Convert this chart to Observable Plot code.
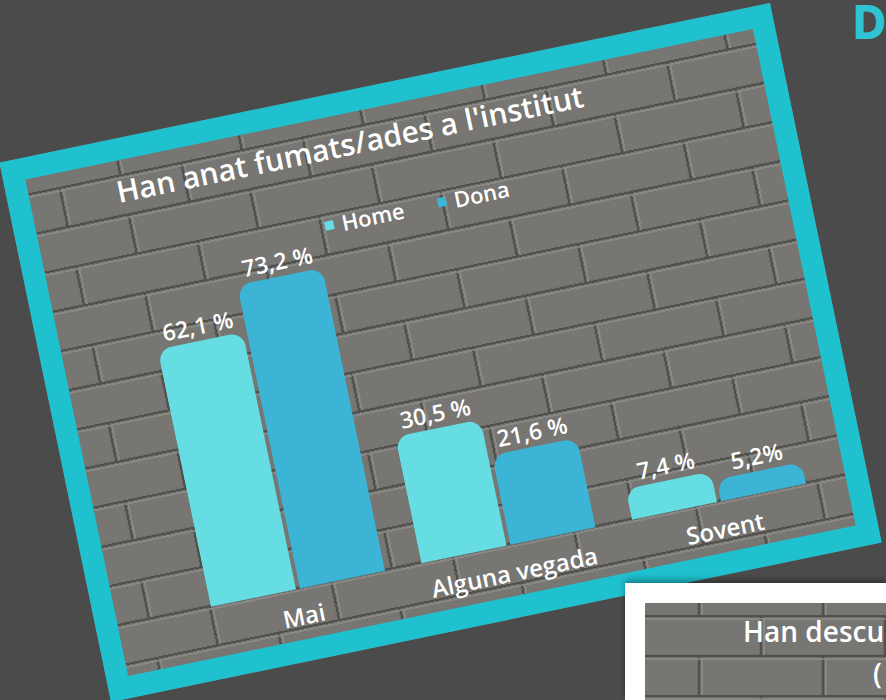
<!DOCTYPE html>
<html><head><meta charset="utf-8">
<script src="https://cdn.jsdelivr.net/npm/d3@7"></script>
<script src="https://cdn.jsdelivr.net/npm/@observablehq/plot@0.6"></script>
<style>
html{margin:0;padding:0;overflow:hidden;background:#4b4b4b;}
body{margin:0;padding:0;width:886px;height:700px;overflow:hidden;background:#4b4b4b;position:relative;font-family:"Open Sans",sans-serif;}
#stage{position:absolute;left:0;top:0;width:886px;height:700px;overflow:hidden;}
#card{position:absolute;left:46.75px;top:76.75px;width:787px;height:551px;box-sizing:border-box;border:22px solid #1fc1cf;transform:rotate(-11.7deg);transform-origin:50% 50%;background-color:#777672;z-index:1;}
#title{position:absolute;left:87px;top:16px;font-size:30px;font-weight:600;color:#fff;white-space:nowrap;line-height:1;}
#legend{position:absolute;left:284px;top:95px;display:flex;gap:34px;font-size:22px;font-weight:600;color:#fff;line-height:1;}
#legend .item{display:flex;align-items:center;gap:8px;}
#legend .sw{width:9px;height:9px;display:inline-block;}
#chart{position:absolute;left:0;top:0;}
#card2{position:absolute;left:625px;top:583px;width:261px;height:117px;box-sizing:border-box;border:20px solid #fff;border-right:none;border-bottom:none;background-color:#777672;z-index:2;box-shadow:0 -3px 6px rgba(0,0,0,0.35);overflow:hidden;}
#t2{position:absolute;left:98px;top:14px;font-size:28px;font-weight:600;color:#fff;white-space:nowrap;line-height:1;}
#t2b{position:absolute;left:228px;top:56px;font-size:28px;font-weight:600;color:#fff;line-height:1;}
#dtitle{position:absolute;left:852px;top:0px;font-family:"Liberation Sans Narrow","DejaVu Sans Condensed",sans-serif;font-weight:bold;font-size:46px;color:#2fc3d3;line-height:1;}
</style>
</head>
<body>
<div id="stage">
<div id="dtitle">D</div>
<div id="card">
  <div id="title"></div>
  <div id="legend"></div>
  <div id="chart"></div>
</div>
<div id="card2"><div id="t2">Han descu</div><div id="t2b">(</div></div>
</div>
<script>
const titleText = "Han anat fumats/ades a l'institut";
const categories = ["Mai", "Alguna vegada", "Sovent"];
const groups = ["Home", "Dona"];
const homeValues = [62.1, 30.5, 7.4];
const donaValues = [73.2, 21.6, 5.2];
const homeLabels = ["62,1 %", "30,5 %", "7,4 %"];
const donaLabels = ["73,2 %", "21,6 %", "5,2%"];
const colors = ["#66dde3", "#3cb4d5"];

// brick texture
const brick = `<svg xmlns='http://www.w3.org/2000/svg' width='124' height='80'>
<rect width='124' height='80' fill='#777672'/>
<g stroke='#50504c' stroke-width='2.5' fill='none'><path d='M0 1H124M0 41H124M2 1V41M64 41V81'/></g>
<g stroke='#8d8c88' stroke-width='1.5' fill='none'><path d='M0 4H124M0 44H124M5 4V40M67 44V80'/></g>
</svg>`;
const brickUrl = "url(\"data:image/svg+xml," + encodeURIComponent(brick) + "\")";
document.getElementById("card").style.backgroundImage = brickUrl;
document.getElementById("card").style.backgroundPosition = "30px 14px";
document.getElementById("card2").style.backgroundImage = brickUrl;
document.getElementById("card2").style.backgroundPosition = "-10px 12px";

document.getElementById("title").textContent = titleText;
const legend = document.getElementById("legend");
groups.forEach((g, i) => {
  const it = document.createElement("span");
  it.className = "item";
  const sw = document.createElement("span");
  sw.className = "sw";
  sw.style.background = colors[i];
  const tx = document.createElement("span");
  tx.textContent = g;
  it.appendChild(sw); it.appendChild(tx);
  legend.appendChild(it);
});

const data = categories.flatMap((c, i) => [
  {cat: c, sex: groups[0], value: homeValues[i], label: homeLabels[i]},
  {cat: c, sex: groups[1], value: donaValues[i], label: donaLabels[i]}
]);

const chart = Plot.plot({
  width: 743, height: 507,
  marginTop: 117.6, marginBottom: 51, marginLeft: 94, marginRight: 38,
  style: {background: "transparent", color: "white", fontFamily: "'Open Sans', sans-serif", overflow: "visible"},
  fx: {domain: categories, paddingInner: 0.17, paddingOuter: 0, label: null},
  x: {domain: groups, paddingInner: 0.045, paddingOuter: 0, axis: null},
  y: {domain: [0, 80], axis: null},
  color: {domain: groups, range: colors},
  marks: [
    Plot.barY(data, {fx: "cat", x: "sex", y1: -10, y2: "value", fill: "sex", rx: 14, clip: true}),
    Plot.text(data, {fx: "cat", x: "sex", y: "value", text: "label", dy: -7, lineAnchor: "bottom", fontSize: 23, fontWeight: 600, fill: "white"}),
    Plot.axisFx({anchor: "bottom", tickSize: 0, tickPadding: 19, fontSize: 24, fontWeight: 600, label: null, fill: "white"})
  ]
});
document.getElementById("chart").appendChild(chart);
</script>
</body></html>
